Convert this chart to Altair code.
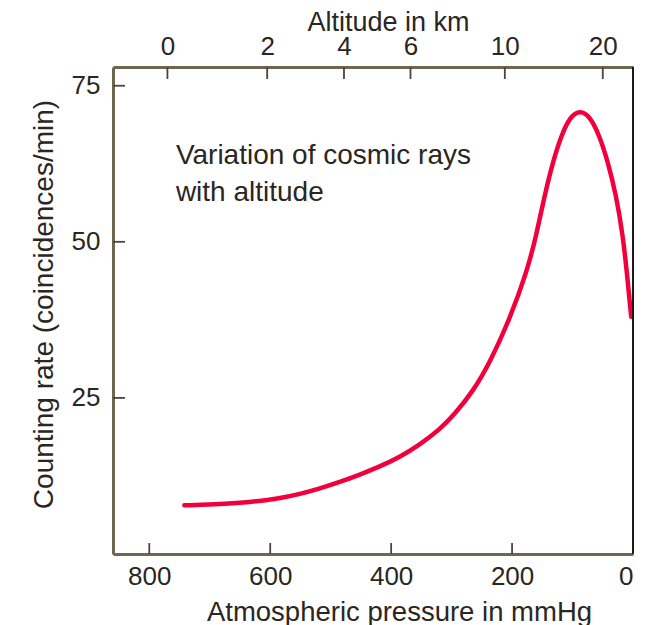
import json
import altair as alt
import pandas as pd

# ---- data ----
pressure = [742, 690, 640, 585, 551, 518, 485, 452, 419, 386, 353, 320, 295, 265, 237,
            204, 175.5, 160, 146.3, 132.5, 118.6, 105, 88.4, 71.8, 55.3, 41.6, 27.7,
            16.8, 10.2, 3]
rate = [7.8, 7.95, 8.2, 8.9, 9.6, 10.5, 11.5, 12.7, 14.0, 15.5, 17.5, 19.9, 22.4, 26.0,
        30.6, 37.6, 45.2, 51.0, 57.4, 62.8, 67.0, 69.9, 71.1, 70.2, 67.0, 62.8, 57.4,
        51.0, 45.2, 38.0]

pressure_domain = [860, 0]
rate_domain = [0, 78]
pressure_ticks = [800, 600, 400, 200, 0]
rate_ticks = [25, 50, 75]
altitude_labels = ["0", "2", "4", "6", "10", "20"]
altitude_pressure = [770, 605, 478, 368, 212, 50]

note_lines = "Variation of cosmic rays\nwith altitude"
note_p = [756]
note_rate = [62.5]

# ---- styles ----
FONT = "Liberation Sans"
TEXT = "#2a2622"
FRAME = "#6f6650"
TICK = "#4a4540"
W, H = 520, 487

curve_df = pd.DataFrame({"p": pressure, "rate": rate})
xscale = alt.Scale(domain=pressure_domain, nice=False, zero=False)
yscale = alt.Scale(domain=rate_domain, nice=False, zero=False)

x_bottom = alt.X(
    "p:Q", scale=xscale,
    axis=alt.Axis(
        values=pressure_ticks, ticks=False, grid=False,
        domainColor=FRAME, domainWidth=3,
        labelFont=FONT, labelFontSize=26, labelColor=TEXT, labelPadding=9,
        title="Atmospheric pressure in mmHg", titleFont=FONT, titleFontSize=27.5,
        titleFontWeight="normal", titleColor=TEXT,
        titleX=286, titleY=66, titleAlign="center", titleBaseline="alphabetic",
    ),
)
y_left = alt.Y(
    "rate:Q", scale=yscale,
    axis=alt.Axis(
        values=rate_ticks, ticks=False, grid=False,
        domainColor=FRAME, domainWidth=3,
        labelFont=FONT, labelFontSize=26, labelColor=TEXT, labelPadding=13,
        title="Counting rate (coincidences/min)", titleFont=FONT, titleFontSize=28,
        titleFontWeight="normal", titleColor=TEXT, titleAngle=270,
        titleX=-61, titleY=237, titleAlign="center", titleBaseline="alphabetic",
    ),
)

curve = alt.Chart(curve_df).mark_line(
    color="#f2003c", strokeWidth=4.5, interpolate="basis", strokeCap="round"
).encode(x=x_bottom, y=y_left)

ytick_df = pd.DataFrame({"rate": rate_ticks})
yticks = alt.Chart(ytick_df).mark_rule(color=TICK, strokeWidth=1.8).encode(
    y=alt.Y("rate:Q", scale=yscale), x=alt.value(0), x2=alt.value(12)
)

xtick_df = pd.DataFrame({"p": pressure_ticks[:-1]})
xticks = alt.Chart(xtick_df).mark_rule(color=TICK, strokeWidth=1.8).encode(
    x=alt.X("p:Q", scale=xscale), y=alt.value(H), y2=alt.value(H - 11)
)

edge_df = pd.DataFrame({"p": [pressure_domain[1]]})
right_edge = alt.Chart(edge_df).mark_rule(color="#1a1a1a", strokeWidth=2).encode(
    x=alt.X("p:Q", scale=xscale), y=alt.value(0), y2=alt.value(H)
)

note_df = pd.DataFrame({"p": note_p, "rate": note_rate, "t": [note_lines]})
note = alt.Chart(note_df).mark_text(
    align="left", baseline="alphabetic", font=FONT, fontSize=28, color=TEXT,
    lineBreak="\n", lineHeight=37,
).encode(x=alt.X("p:Q", scale=xscale), y=alt.Y("rate:Q", scale=yscale), text="t:N")

bottom_layers = alt.layer(curve, yticks, xticks, right_edge, note)

label_expr = "{}[indexof({}, datum.value)]".format(
    json.dumps(altitude_labels).replace('"', "'"), json.dumps(altitude_pressure)
)
top_df = pd.DataFrame({"p": altitude_pressure})
top = alt.Chart(top_df).mark_rule(color=TICK, strokeWidth=1.8).encode(
    x=alt.X(
        "p:Q", scale=alt.Scale(domain=pressure_domain, nice=False, zero=False),
        axis=alt.Axis(
            orient="top", values=altitude_pressure, labelExpr=label_expr,
            ticks=False, grid=False, domainColor=FRAME, domainWidth=3,
            labelFont=FONT, labelFontSize=26, labelColor=TEXT, labelPadding=8,
            title="Altitude in km", titleFont=FONT, titleFontSize=27,
            titleFontWeight="normal", titleColor=TEXT,
            titleX=275, titleY=-37, titleAlign="center", titleBaseline="alphabetic",
        ),
    ),
    y=alt.value(0), y2=alt.value(12),
)

chart = alt.layer(bottom_layers, top).resolve_scale(x="independent").properties(
    width=W, height=H,
    padding={"left": 105, "top": 59, "right": 12, "bottom": 72},
    autosize=alt.AutoSizeParams(type="none"),
).configure_view(stroke=None).configure(background="white")

chart.save("out.html", embed_options={"renderer": "svg", "actions": False})
